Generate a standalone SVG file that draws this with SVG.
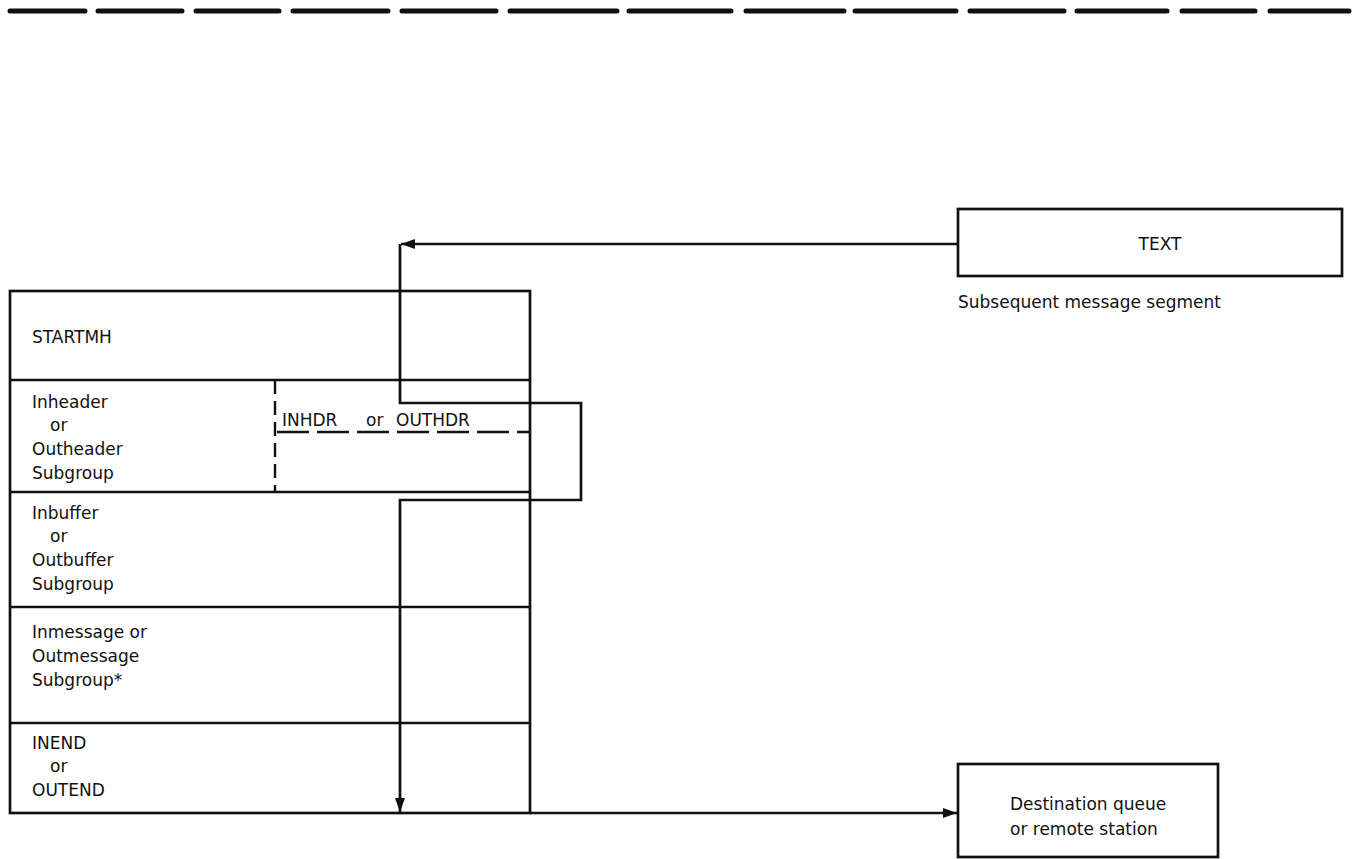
<svg xmlns="http://www.w3.org/2000/svg" width="1356" height="859" viewBox="0 0 1356 859">
<style>
  .ln{fill:none;stroke:#111;stroke-width:2.7}
  .box{fill:#fff;stroke:#111;stroke-width:2.7}
  .dash{fill:none;stroke:#111;stroke-width:2.4;stroke-dasharray:14 7}
  .dashh{fill:none;stroke:#111;stroke-width:2.4;stroke-dasharray:32 8}
  .t{font-family:"DejaVu Sans","Liberation Sans",sans-serif;font-size:17px;fill:#111}
</style>
<defs>
  <marker id="arr" markerUnits="userSpaceOnUse" markerWidth="16" markerHeight="12" refX="14" refY="5" orient="auto">
    <path d="M0,0 L14,5 L0,10 z" fill="#111"/>
  </marker>
</defs>
<rect width="1356" height="859" fill="#fff"/>
<g id="top-rule">
  <path d="M10 11H85M98 11H182M196 11H279M293 11H388M402 11H496M510 11H617M629 11H731M746 11H844M855 11H956M970 11H1064M1077 11H1167M1182 11H1255M1270 11H1349" fill="none" stroke="#111" stroke-width="5" stroke-linecap="round"/>
</g>
<g id="mh-group">
  <rect class="box" x="10" y="291" width="520" height="522"/>
  <path class="ln" d="M10 380H530M10 492H530M10 607H530M10 723H530"/>
  <text class="t" x="32" y="343">STARTMH</text>
  <g id="header-subgroup">
    <text class="t" x="32" y="408">Inheader</text>
    <text class="t" x="50" y="431">or</text>
    <text class="t" x="32" y="455">Outheader</text>
    <text class="t" x="32" y="479">Subgroup</text>
    <path class="dash" d="M275 380V492"/>
    <path class="dashh" d="M277 432H530"/>
    <text class="t" y="426"><tspan x="282">INHDR</tspan><tspan x="366">or</tspan><tspan x="396">OUTHDR</tspan></text>
  </g>
  <g id="buffer-subgroup">
    <text class="t" x="32" y="519">Inbuffer</text>
    <text class="t" x="50" y="542">or</text>
    <text class="t" x="32" y="566">Outbuffer</text>
    <text class="t" x="32" y="590">Subgroup</text>
  </g>
  <g id="message-subgroup">
    <text class="t" x="32" y="638">Inmessage or</text>
    <text class="t" x="32" y="662">Outmessage</text>
    <text class="t" x="32" y="686">Subgroup*</text>
  </g>
  <g id="end">
    <text class="t" x="32" y="749">INEND</text>
    <text class="t" x="50" y="772">or</text>
    <text class="t" x="32" y="796">OUTEND</text>
  </g>
</g>
<g id="text-segment">
  <rect class="box" x="958" y="209" width="384" height="67"/>
  <text class="t" x="1160" y="250" text-anchor="middle">TEXT</text>
  <text class="t" x="958" y="308">Subsequent message segment</text>
</g>
<g id="destination">
  <rect class="box" x="958" y="764" width="260" height="93"/>
  <text class="t" x="1010" y="810">Destination queue</text>
  <text class="t" x="1010" y="835">or remote station</text>
</g>
<g id="connectors">
  <path class="ln" d="M958 244H401" marker-end="url(#arr)"/>
  <path class="ln" d="M400 244V403H581V500H400V812" marker-end="url(#arr)"/>
  <path class="ln" d="M530 813H957" marker-end="url(#arr)"/>
</g>
</svg>
